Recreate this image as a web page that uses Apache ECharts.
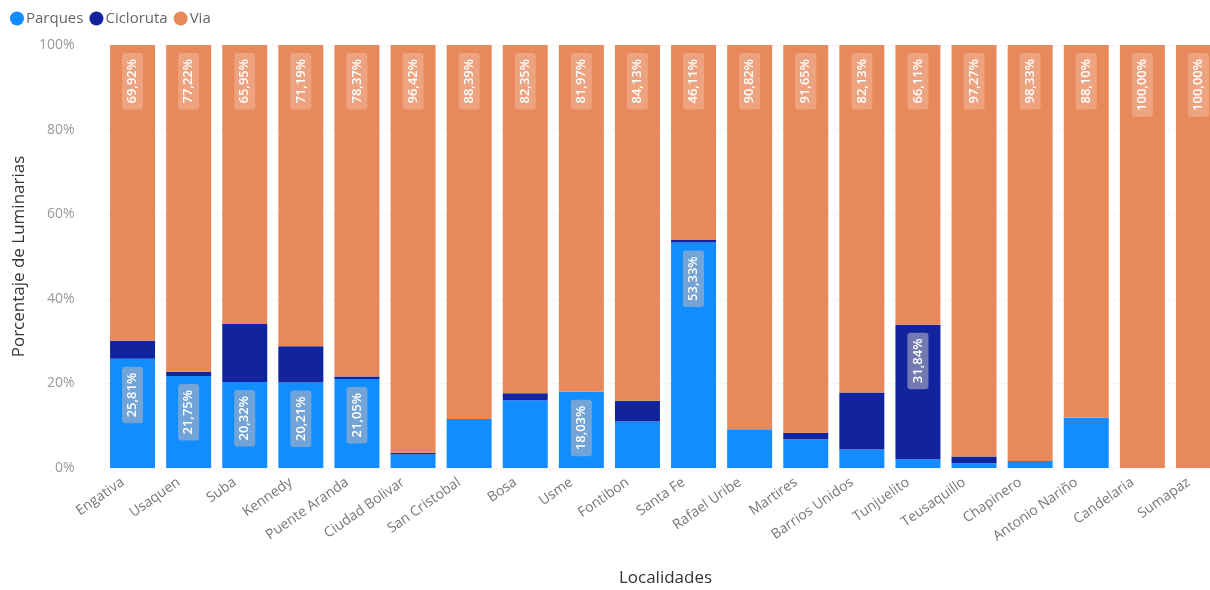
<!DOCTYPE html>
<html>
<head>
<meta charset="utf-8">
<script src="https://cdn.jsdelivr.net/npm/echarts@6/dist/echarts.min.js"></script>
<style>
  html, body { margin: 0; padding: 0; background: #ffffff; }
  #chart { width: 1210px; height: 590px; }
</style>
</head>
<body>
<div id="chart"></div>
<script>
// Localidades de Bogotá y reparto porcentual de luminarias por tipo
const localidades = ['Engativa', 'Usaquen', 'Suba', 'Kennedy', 'Puente Aranda', 'Ciudad Bolivar',
  'San Cristobal', 'Bosa', 'Usme', 'Fontibon', 'Santa Fe', 'Rafael Uribe', 'Martires',
  'Barrios Unidos', 'Tunjuelito', 'Teusaquillo', 'Chapinero', 'Antonio Nariño', 'Candelaria', 'Sumapaz'];

const parques   = [25.81, 21.75, 20.32, 20.21, 21.05, 3.20, 11.61, 16.00, 18.03, 11.00,
                   53.33, 9.18, 6.80, 4.40, 2.05, 1.10, 1.67, 11.90, 0, 0];
const cicloruta = [4.27, 1.03, 13.73, 8.60, 0.58, 0.38, 0, 1.65, 0, 4.87,
                   0.56, 0, 1.55, 13.47, 31.84, 1.63, 0, 0, 0, 0];
const via       = [69.92, 77.22, 65.95, 71.19, 78.37, 96.42, 88.39, 82.35, 81.97, 84.13,
                   46.11, 90.82, 91.65, 82.13, 66.11, 97.27, 98.33, 88.10, 100.00, 100.00];

const yTicks = [0, 20, 40, 60, 80, 100];

const fmt = v => v.toFixed(2).replace('.', ',') + '%';

// Shared look of the segment labels: rotated, at the top of each segment
function segLabel(bg) {
  return {
    show: true,
    position: 'insideTop',
    distance: 8,
    rotate: 90,
    align: 'right',
    verticalAlign: 'middle',
    color: '#ffffff',
    fontFamily: 'Open Sans',
    fontWeight: 600,
    fontSize: 13,
    backgroundColor: bg,
    borderRadius: 3,
    padding: [4, 6, 4, 6],
    formatter: p => fmt(p.value)
  };
}

// Only segments tall enough to hold the text get a label
const withLabels = values => values.map(v => ({ value: v, label: { show: v >= 17 } }));

const chart = echarts.init(document.getElementById('chart'), null, { renderer: 'canvas' });

chart.setOption({
  animation: false,
  textStyle: { fontFamily: 'Open Sans' },
  legend: {
    left: 5,
    top: 6,
    icon: 'circle',
    itemWidth: 14,
    itemHeight: 14,
    itemGap: 6,
    textStyle: { color: '#666666', fontSize: 15, fontFamily: 'Open Sans', padding: [0, 0, 0, -3] },
    data: ['Parques', 'Cicloruta', 'Via']
  },
  grid: { left: 104.5, top: 45, width: 1122, height: 423, containLabel: false, outerBoundsMode: 'none' },
  xAxis: {
    type: 'category',
    data: localidades,
    name: 'Localidades',
    nameLocation: 'middle',
    nameGap: 102,
    nameTextStyle: { color: '#333333', fontSize: 17, fontFamily: 'Open Sans' },
    axisLine: { show: false },
    axisTick: { show: false },
    axisLabel: {
      interval: 0,
      rotate: 35,
      margin: 6,
      color: '#777777',
      fontSize: 14,
      fontFamily: 'Open Sans',
      padding: [0, 12, 0, 0]
    }
  },
  yAxis: {
    type: 'value',
    min: yTicks[0],
    max: yTicks[yTicks.length - 1],
    interval: 20,
    name: 'Porcentaje de Luminarias',
    nameLocation: 'middle',
    nameGap: 76,
    nameTextStyle: { color: '#333333', fontSize: 17, fontFamily: 'Open Sans' },
    axisLine: { show: false },
    axisTick: { show: false },
    axisLabel: { formatter: '{value}%', color: '#999999', fontSize: 14, margin: 30, fontFamily: 'Open Sans' },
    splitLine: { lineStyle: { color: '#dddddd', type: [1, 3], width: 1 } }
  },
  series: [
    {
      name: 'Parques', type: 'bar', stack: 'total', barWidth: 45,
      itemStyle: { color: '#118DFF' },
      label: segLabel('rgba(180,180,190,0.6)'),
      data: withLabels(parques)
    },
    {
      name: 'Cicloruta', type: 'bar', stack: 'total', barWidth: 45,
      itemStyle: { color: '#12239E' },
      label: segLabel('rgba(180,180,190,0.6)'),
      data: withLabels(cicloruta)
    },
    {
      name: 'Via', type: 'bar', stack: 'total', barWidth: 45,
      itemStyle: { color: '#E8895C' },
      label: segLabel('rgba(255,255,255,0.22)'),
      data: withLabels(via)
    }
  ]
});
</script>
</body>
</html>
